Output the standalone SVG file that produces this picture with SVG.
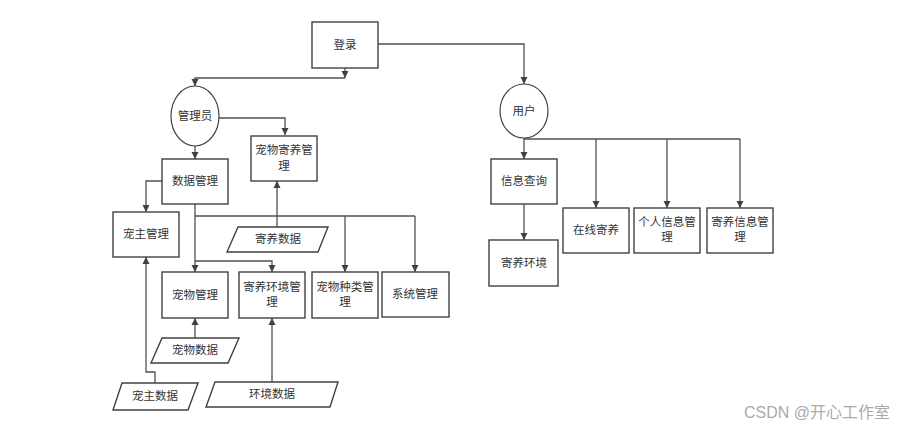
<svg xmlns="http://www.w3.org/2000/svg" width="901" height="430" viewBox="0 0 901 430">
<style>
.box{fill:#fff;stroke:#404040;stroke-width:1.4}
.ell{fill:#fff;stroke:#404040;stroke-width:1.2}
.t{font-family:"Liberation Serif","Noto Sans CJK SC",serif;font-size:11.5px;fill:#333;text-anchor:middle}
.ln{fill:none;stroke:#505050;stroke-width:1.3}
.wm{font-family:"Liberation Sans","Noto Sans CJK SC",sans-serif;font-size:16px;fill:#aaa}
</style>
<defs>
<marker id="a" markerWidth="8" markerHeight="8" refX="7" refY="4" orient="auto" markerUnits="userSpaceOnUse">
<path d="M0,0.5 L7,4 L0,7.5 Z" fill="#404040"/>
</marker>
</defs>
<rect width="901" height="430" fill="#fff"/>

<g id="connectors">
<path class="ln" d="M345,68 V78" marker-end="url(#a)"/>
<path class="ln" d="M345,78 H195 V86" marker-end="url(#a)"/>
<path class="ln" d="M378,44 H524 V84" marker-end="url(#a)"/>
<path class="ln" d="M219,118 H285 V135" marker-end="url(#a)"/>
<path class="ln" d="M195,145 V159" marker-end="url(#a)"/>
<path class="ln" d="M162,181 H146 V212" marker-end="url(#a)"/>
<path class="ln" d="M195,204 V272" marker-end="url(#a)"/>
<path class="ln" d="M195,261 H272 V272" marker-end="url(#a)"/>
<path class="ln" d="M195,216 H415"/>
<path class="ln" d="M345,216 V272" marker-end="url(#a)"/>
<path class="ln" d="M415,216 V272" marker-end="url(#a)"/>
<path class="ln" d="M277,227 V181" marker-end="url(#a)"/>
<path class="ln" d="M195,338 V318" marker-end="url(#a)"/>
<path class="ln" d="M155,383 V372 H146 V257" marker-end="url(#a)"/>
<path class="ln" d="M272,382 V318" marker-end="url(#a)"/>
<path class="ln" d="M524,138 V159" marker-end="url(#a)"/>
<path class="ln" d="M524,139 H740"/>
<path class="ln" d="M596,139 V208" marker-end="url(#a)"/>
<path class="ln" d="M667,139 V208" marker-end="url(#a)"/>
<path class="ln" d="M740,139 V208" marker-end="url(#a)"/>
<path class="ln" d="M524,204 V240" marker-end="url(#a)"/>
</g>

<g id="login"><rect class="box" x="312" y="22" width="66" height="46"/><text class="t" x="345" y="49">登录</text></g>
<g id="admin"><ellipse class="ell" cx="195" cy="116" rx="24" ry="30"/><text class="t" x="195" y="120">管理员</text></g>
<g id="user"><ellipse class="ell" cx="524" cy="111" rx="24" ry="27"/><text class="t" x="524" y="115">用户</text></g>

<g id="petboard"><rect class="box" x="251" y="136" width="66" height="45"/><text class="t" x="284" y="154">宠物寄养管</text><text class="t" x="284" y="170">理</text></g>
<g id="datamgr"><rect class="box" x="162" y="159" width="66" height="45"/><text class="t" x="195" y="185">数据管理</text></g>
<g id="ownermgr"><rect class="box" x="113" y="212" width="66" height="45"/><text class="t" x="146" y="238">宠主管理</text></g>
<g id="petmgr"><rect class="box" x="162" y="272" width="66" height="46"/><text class="t" x="195" y="299">宠物管理</text></g>
<g id="envmgr"><rect class="box" x="239" y="272" width="66" height="46"/><text class="t" x="272" y="291">寄养环境管</text><text class="t" x="272" y="306">理</text></g>
<g id="typemgr"><rect class="box" x="312" y="272" width="66" height="46"/><text class="t" x="345" y="291">宠物种类管</text><text class="t" x="345" y="306">理</text></g>
<g id="sysmgr"><rect class="box" x="382" y="272" width="67" height="45"/><text class="t" x="415" y="298">系统管理</text></g>

<g id="boarddata"><polygon class="box" points="238,227 328,227 318,252 227,252"/><text class="t" x="278" y="243">寄养数据</text></g>
<g id="petdata"><polygon class="box" points="162,338 239,338 228,363 151,363"/><text class="t" x="195" y="354">宠物数据</text></g>
<g id="ownerdata"><polygon class="box" points="122,383 198,383 188,410 113,410"/><text class="t" x="155" y="400">宠主数据</text></g>
<g id="envdata"><polygon class="box" points="215,382 338,382 330,407 206,407"/><text class="t" x="272" y="398">环境数据</text></g>

<g id="query"><rect class="box" x="491" y="159" width="66" height="45"/><text class="t" x="524" y="185">信息查询</text></g>
<g id="env"><rect class="box" x="489" y="240" width="69" height="46"/><text class="t" x="524" y="267">寄养环境</text></g>
<g id="online"><rect class="box" x="563" y="208" width="66" height="45"/><text class="t" x="596" y="234">在线寄养</text></g>
<g id="personal"><rect class="box" x="634" y="208" width="66" height="45"/><text class="t" x="667" y="226">个人信息管</text><text class="t" x="667" y="241">理</text></g>
<g id="boardinfo"><rect class="box" x="707" y="208" width="66" height="45"/><text class="t" x="740" y="226">寄养信息管</text><text class="t" x="740" y="241">理</text></g>

<text class="wm" x="744" y="418">CSDN @开心工作室</text>
</svg>
